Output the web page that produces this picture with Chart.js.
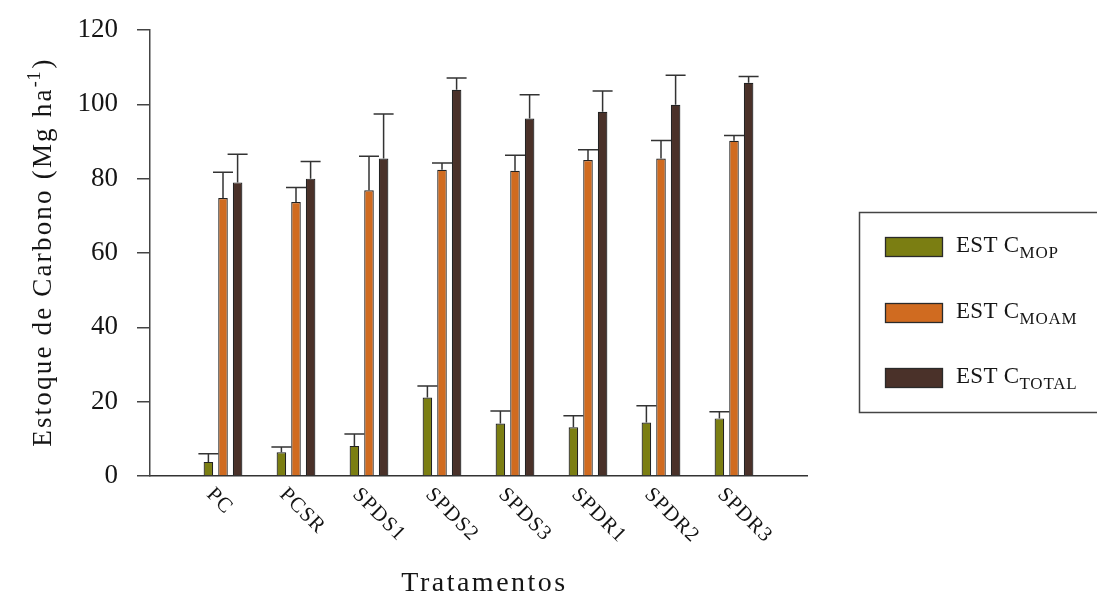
<!DOCTYPE html>
<html><head><meta charset="utf-8">
<script src="https://cdn.jsdelivr.net/npm/chart.js@4/dist/chart.umd.min.js"></script>
<style>html,body{margin:0;padding:0;background:#fff}#wrap{width:1097px;height:601px;position:relative}</style>
</head><body><div id="wrap"><canvas id="c"></canvas></div>
<script>
const categories = ['PC','PCSR','SPDS1','SPDS2','SPDS3','SPDR1','SPDR2','SPDR3'];
const mopValues = [3.8,6.4,8.1,21.1,14.1,13.1,14.4,15.5];
const mopErrors = [2.2,1.4,3.2,3.1,3.4,3.1,4.5,1.8];
const moamValues = [74.8,73.7,76.9,82.4,82.1,85.0,85.4,90.2];
const moamErrors = [6.9,3.9,9.1,1.8,4.2,2.8,4.9,1.4];
const totalValues = [79.0,80.0,85.4,103.9,96.2,98.0,99.9,105.8];
const totalErrors = [7.6,4.6,12.0,3.2,6.4,5.6,7.9,1.7];
const yTicks = [0,20,40,60,80,100,120];
const seriesSubs = ['MOP','MOAM','TOTAL'];
const seriesColors = ['#7b7e12','#d06b20','#4a3129'];
const yTitle = 'Estoque de Carbono (Mg ha';
const yTitleSup = '-1';
const xTitle = 'Tratamentos';

const SERIF = "'Liberation Serif','Times New Roman',serif";
const pad = a => [null, ...a, null];
const labels = ['', ...categories, ''];
const errs = [mopErrors, moamErrors, totalErrors];

const custom = {
  id: 'custom',
  afterDatasetsDraw(chart) {
    const ctx = chart.ctx, ys = chart.scales.y;
    ctx.save();
    ctx.strokeStyle = '#333'; ctx.lineWidth = 1.5;
    chart.data.datasets.forEach((ds, d) => {
      const meta = chart.getDatasetMeta(d);
      meta.data.forEach((el, i) => {
        const v = ds.data[i];
        if (v === null || v === undefined) return;
        const e = errs[d][i - 1];
        const yTop = ys.getPixelForValue(v + e);
        ctx.beginPath();
        ctx.moveTo(el.x, el.y); ctx.lineTo(el.x, yTop);
        ctx.moveTo(el.x - 10, yTop); ctx.lineTo(el.x + 10, yTop);
        ctx.stroke();
      });
    });
    ctx.restore();
  },
  afterDraw(chart) {
    const ctx = chart.ctx, xs = chart.scales.x;
    const area = chart.chartArea;
    ctx.save();
    ctx.fillStyle = '#151515';
    ctx.font = '21px ' + SERIF;
    ctx.letterSpacing = '1px';
    ctx.textAlign = 'left'; ctx.textBaseline = 'top';
    for (let i = 1; i <= categories.length; i++) {
      const x = xs.getPixelForTick(i);
      ctx.save();
      ctx.translate(x - 6, area.bottom + 8);
      ctx.rotate(Math.PI / 4);
      ctx.fillText(labels[i], 0, 0);
      ctx.restore();
    }
    ctx.font = '28px ' + SERIF;
    ctx.letterSpacing = '2.5px';
    ctx.textAlign = 'center'; ctx.textBaseline = 'alphabetic';
    ctx.fillText(xTitle, (area.left + area.right) / 2 + 6, 591);
    ctx.save();
    const cy = (area.top + area.bottom) / 2;
    ctx.translate(51, cy);
    ctx.rotate(-Math.PI / 2);
    ctx.textAlign = 'left';
    ctx.font = '27px ' + SERIF; ctx.letterSpacing = '2.2px';
    const w1 = ctx.measureText(yTitle).width;
    ctx.font = '18px ' + SERIF; ctx.letterSpacing = '1px';
    const w2 = ctx.measureText(yTitleSup).width;
    ctx.font = '27px ' + SERIF; ctx.letterSpacing = '2.2px';
    const w3 = ctx.measureText(')').width;
    let sx = -(w1 + w2 + w3) / 2;
    ctx.fillText(yTitle, sx, 0);
    ctx.font = '18px ' + SERIF; ctx.letterSpacing = '1px';
    ctx.fillText(yTitleSup, sx + w1, -11);
    ctx.font = '27px ' + SERIF; ctx.letterSpacing = '2.2px';
    ctx.fillText(')', sx + w1 + w2 + 2, 0);
    ctx.restore();
    ctx.letterSpacing = '0px';
    ctx.strokeStyle = '#444'; ctx.lineWidth = 1.5;
    ctx.strokeRect(859.5, 212.5, 260, 200);
    const rowY = [237, 303, 368];
    seriesSubs.forEach((s, k) => {
      ctx.fillStyle = seriesColors[k];
      ctx.fillRect(885, rowY[k], 57, 19);
      ctx.strokeStyle = '#2a2a2a'; ctx.lineWidth = 1.3;
      ctx.strokeRect(885.5, rowY[k] + 0.5, 57, 19);
      ctx.fillStyle = '#151515';
      ctx.textAlign = 'left'; ctx.textBaseline = 'alphabetic';
      ctx.font = '23px ' + SERIF; ctx.letterSpacing = '0.3px';
      const base = rowY[k] + 15;
      ctx.fillText('EST C', 956, base);
      const wm = ctx.measureText('EST C').width;
      ctx.font = '17px ' + SERIF; ctx.letterSpacing = '0.8px';
      ctx.fillText(s, 956 + wm, base + 6);
    });
    ctx.restore();
  }
};

new Chart(document.getElementById('c'), {
  type: 'bar',
  data: {
    labels: labels,
    datasets: [
      { label: 'EST C MOP', data: pad(mopValues), backgroundColor: seriesColors[0] },
      { label: 'EST C MOAM', data: pad(moamValues), backgroundColor: seriesColors[1] },
      { label: 'EST C TOTAL', data: pad(totalValues), backgroundColor: seriesColors[2] }
    ]
  },
  options: {
    responsive: true, maintainAspectRatio: false, animation: false,
    datasets: { bar: { borderColor: '#222', borderWidth: 1.2, categoryPercentage: 0.6, barPercentage: 0.655 } },
    layout: { padding: { left: 70, right: 290, top: 30, bottom: 125 } },
    plugins: { legend: { display: false }, tooltip: { enabled: false } },
    scales: {
      x: {
        offset: false,
        grid: { display: false },
        border: { display: true, color: '#333', width: 1.5 },
        ticks: { display: false },
        afterFit(s) { s.height = 0; s.paddingLeft = 0; s.paddingRight = 0; }
      },
      y: {
        min: 0, max: 120,
        afterBuildTicks(s) { s.ticks = yTicks.map(v => ({ value: v })); },
        grid: { drawOnChartArea: false, drawTicks: true, tickLength: 13, color: '#444', lineWidth: 1.5 },
        border: { display: true, color: '#444', width: 1.5 },
        ticks: { padding: 19, color: '#151515', font: { family: SERIF, size: 27 } },
        afterFit(s) { s.width = 80; s.paddingTop = 0; s.paddingBottom = 0; }
      }
    }
  },
  plugins: [custom]
});
</script>
</body></html>
